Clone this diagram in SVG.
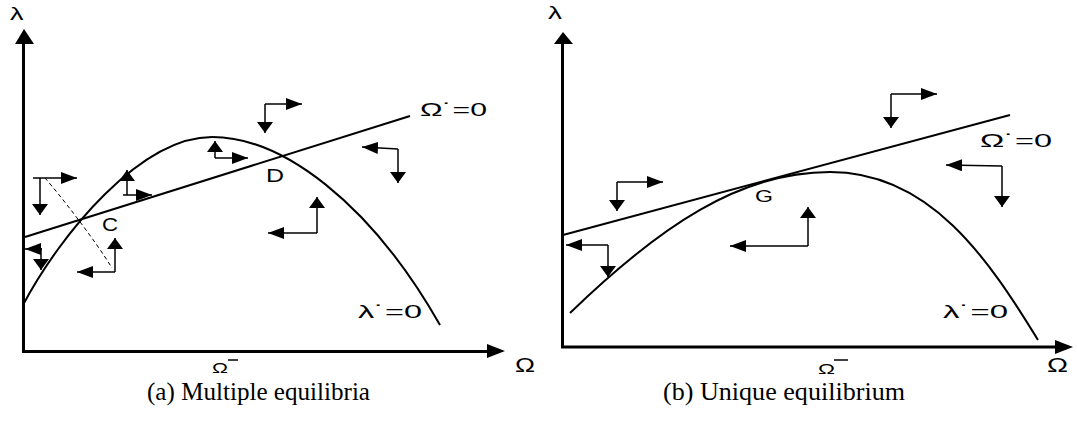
<svg xmlns="http://www.w3.org/2000/svg" width="1077" height="425" viewBox="0 0 1077 425">
<style>
.axis{stroke:#000;stroke-width:3;fill:none}
.curve{stroke:#000;stroke-width:2;fill:none}
.arr{stroke:#000;stroke-width:1.5;fill:none}
.harr{marker-end:url(#hh)}
.varr{marker-end:url(#vh)}
.dash{stroke:#000;stroke-width:1;fill:none;stroke-dasharray:4,3}
.lbl{font-family:"Liberation Sans",Arial,sans-serif;fill:#000}
.cap{font-family:"Liberation Serif","Times New Roman",serif;font-size:26px;fill:#000}
.head{fill:#000;stroke:none}
</style>
<defs>
<marker id="hh" viewBox="0 0 16 12" refX="16" refY="6" markerWidth="16" markerHeight="12" markerUnits="userSpaceOnUse" orient="auto">
<path d="M0,0 L16,6 L0,12 z" fill="#000"/>
</marker>
<marker id="vh" viewBox="0 0 11 16" refX="11" refY="8" markerWidth="11" markerHeight="16" markerUnits="userSpaceOnUse" orient="auto">
<path d="M0,0 L11,8 L0,16 z" fill="#000"/>
</marker>
</defs>

<g id="panel-a">
<g id="axes-a">
<line class="axis" x1="23.5" y1="42" x2="23.5" y2="353"/>
<polygon class="head" points="24,29 15,44 34,44"/>
<line class="axis" x1="22" y1="351.5" x2="489" y2="351.5"/>
<polygon class="head" points="505,351 487,344 487,358"/>
<text class="lbl" x="10" y="20" font-size="19" textLength="13.5" lengthAdjust="spacingAndGlyphs">λ</text>
<text class="lbl" x="515" y="372" font-size="20" textLength="20" lengthAdjust="spacingAndGlyphs">Ω</text>
<text class="lbl" x="212" y="373" font-size="14" textLength="16" lengthAdjust="spacingAndGlyphs">Ω</text>
<line x1="228" y1="360" x2="238" y2="360" stroke="#000" stroke-width="1.5"/>
</g>
<g id="curves-a">
<path id="lambda-null-a" class="curve" d="M23,305 C60,235 140,137 212,137 C282,137 370,202 440,325"/>
<path id="omega-null-a" class="curve" d="M25,237 L410,116"/>
<path id="saddle-a" class="dash" d="M45,178 C60,195 95,240 112,268"/>
</g>
<g id="labels-a">
<text class="lbl" x="420" y="116" font-size="18" textLength="67" lengthAdjust="spacingAndGlyphs">Ω˙=0</text>
<text class="lbl" x="358" y="318" font-size="18" textLength="64" lengthAdjust="spacingAndGlyphs">λ˙=0</text>
<text class="lbl" x="102" y="231" font-size="18" textLength="16" lengthAdjust="spacingAndGlyphs">C</text>
<text class="lbl" x="266" y="182" font-size="18" textLength="18" lengthAdjust="spacingAndGlyphs">D</text>
</g>
<g id="phase-arrows-a">
<path class="arr harr" d="M33,178 L77,178"/><path class="arr varr" d="M40,178 L40,215"/>
<path class="arr harr" d="M42,249 L25,249"/><path class="arr varr" d="M41,248 L41,270"/>
<path class="arr harr" d="M115,272 L77,272"/><path class="arr varr" d="M115,272 L115,238"/>
<path class="arr varr" d="M127,195 L127,170"/><path class="arr harr" d="M123,195 L152,195"/>
<path class="arr varr" d="M215,158 L215,141"/><path class="arr harr" d="M215,158 L248,158"/>
<path class="arr harr" d="M265,104 L302,104"/><path class="arr varr" d="M265,104 L265,133"/>
<path class="arr harr" d="M398,149 L362,147"/><path class="arr varr" d="M398,149 L398,183"/>
<path class="arr harr" d="M317,233 L268,233"/><path class="arr varr" d="M317,233 L317,197"/>
</g>
<text class="cap" x="147" y="400" textLength="223" lengthAdjust="spacingAndGlyphs">(a) Multiple equilibria</text>
</g>

<g id="panel-b">
<g id="axes-b">
<line class="axis" x1="562.5" y1="42" x2="562.5" y2="348"/>
<polygon class="head" points="563,32 554,44 573,44"/>
<line class="axis" x1="561" y1="347" x2="1057" y2="347"/>
<polygon class="head" points="1073,347 1055,340 1055,354"/>
<text class="lbl" x="548" y="19" font-size="19" textLength="14" lengthAdjust="spacingAndGlyphs">λ</text>
<text class="lbl" x="1047" y="372" font-size="20" textLength="21" lengthAdjust="spacingAndGlyphs">Ω</text>
<text class="lbl" x="818" y="374" font-size="14" textLength="17" lengthAdjust="spacingAndGlyphs">Ω</text>
<line x1="834" y1="360" x2="848" y2="360" stroke="#000" stroke-width="1.5"/>
</g>
<g id="curves-b">
<path id="lambda-null-b" class="curve" d="M570,313 C660,226 740,172 830,172 C930,172 988,258.5 1038,340"/>
<path id="omega-null-b" class="curve" d="M563,235 L1010,115"/>
</g>
<g id="labels-b">
<text class="lbl" x="980" y="147" font-size="18" textLength="72" lengthAdjust="spacingAndGlyphs">Ω˙=0</text>
<text class="lbl" x="943" y="318" font-size="18" textLength="65" lengthAdjust="spacingAndGlyphs">λ˙=0</text>
<text class="lbl" x="755" y="202" font-size="17" textLength="18" lengthAdjust="spacingAndGlyphs">G</text>
</g>
<g id="phase-arrows-b">
<path class="arr harr" d="M617,182 L663,182"/><path class="arr varr" d="M617,182 L617,211"/>
<path class="arr harr" d="M608,245 L566,245"/><path class="arr varr" d="M608,245 L608,277"/>
<path class="arr harr" d="M808,246 L730,246"/><path class="arr varr" d="M808,246 L808,207"/>
<path class="arr harr" d="M891,94 L937,94"/><path class="arr varr" d="M891,94 L891,128"/>
<path class="arr harr" d="M1002,166 L946,165"/><path class="arr varr" d="M1002,166 L1002,207"/>
</g>
<text class="cap" x="663" y="400" textLength="242" lengthAdjust="spacingAndGlyphs">(b) Unique equilibrium</text>
</g>
</svg>
